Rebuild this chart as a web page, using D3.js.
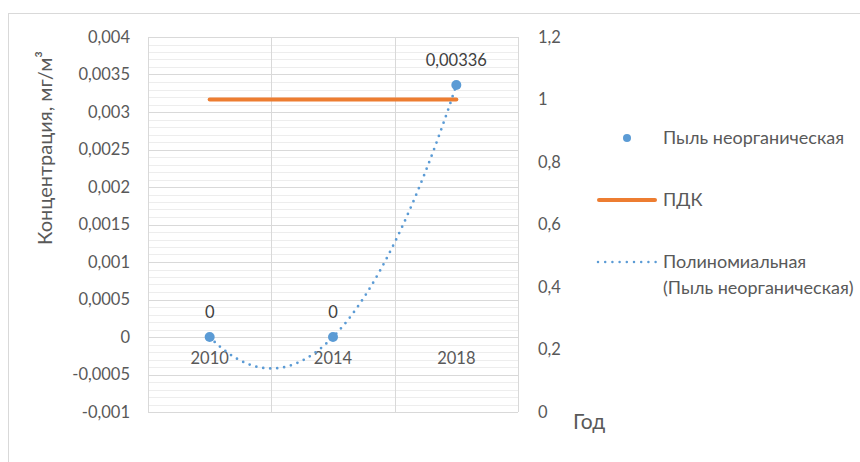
<!DOCTYPE html>
<html>
<head>
<meta charset="utf-8">
<script src="https://cdn.jsdelivr.net/npm/d3@7"></script>
<style>
  html, body { margin: 0; padding: 0; background: #fff; }
  svg { display: block; font-family: Lato, "Open Sans", sans-serif; }
</style>
</head>
<body>
<svg id="chart" width="860" height="462"></svg>
<script>
const years = ["2010", "2014", "2018"];
const dust = [0, 0, 0.00336];          // Пыль неорганическая, мг/м³
const pdk = [1, 1, 1];                 // ПДК, secondary axis
const leftTicks = [-0.001, -0.0005, 0, 0.0005, 0.001, 0.0015, 0.002, 0.0025, 0.003, 0.0035, 0.004];
const rightTicks = [0, 0.2, 0.4, 0.6, 0.8, 1, 1.2];

const BLUE = "#5B9BD5", ORANGE = "#ED7D31", TXT = "#595959";

const loc = d3.formatLocale({ decimal: ",", thousands: " ", grouping: [3], currency: ["", ""], minus: "-" });
const fmt = loc.format("~g");

const svg = d3.select("#chart");
const plot = { left: 148, right: 518, top: 37, bottom: 412 };

// chart frame
svg.append("rect")
  .attr("x", 8.5).attr("y", 13.5)
  .attr("width", 900).attr("height", 500)
  .attr("fill", "#fff").attr("stroke", "#D9D9D9");

const x = d3.scaleBand().domain(years).range([plot.left, plot.right]);
const xc = d => x(d) + x.bandwidth() / 2;
const y = d3.scaleLinear().domain([-0.001, 0.004]).range([plot.bottom, plot.top]);
const y2 = d3.scaleLinear().domain([0, 1.2]).range([plot.bottom, plot.top]);

// minor gridlines
const minor = d3.range(-10, 41).map(i => i / 10000);
svg.append("g").selectAll("line").data(minor).join("line")
  .attr("x1", plot.left).attr("x2", plot.right)
  .attr("y1", d => Math.round(y(d)) + 0.5).attr("y2", d => Math.round(y(d)) + 0.5)
  .attr("stroke", "#EDEDED");

// major gridlines
svg.append("g").selectAll("line").data(leftTicks).join("line")
  .attr("x1", plot.left).attr("x2", plot.right)
  .attr("y1", d => Math.round(y(d)) + 0.5).attr("y2", d => Math.round(y(d)) + 0.5)
  .attr("stroke", "#D9D9D9");

// vertical gridlines at category boundaries
const vlines = years.map(d => x(d)).concat([plot.right]);
svg.append("g").selectAll("line").data(vlines).join("line")
  .attr("x1", d => Math.round(d) + 0.5).attr("x2", d => Math.round(d) + 0.5)
  .attr("y1", plot.top).attr("y2", plot.bottom)
  .attr("stroke", "#D9D9D9");

// left axis labels
svg.append("g").selectAll("text").data(leftTicks).join("text")
  .attr("x", 130).attr("y", d => y(d))
  .attr("dy", "0.35em").attr("text-anchor", "end")
  .attr("font-size", 16.5).attr("fill", TXT)
  .text(d => fmt(d));

// right axis labels
svg.append("g").selectAll("text").data(rightTicks).join("text")
  .attr("x", 538).attr("y", d => y2(d))
  .attr("dy", "0.35em").attr("text-anchor", "start")
  .attr("font-size", 16.5).attr("fill", TXT)
  .text(d => fmt(d));

// category labels (axis crosses at 0)
svg.append("g").selectAll("text").data(years).join("text")
  .attr("x", d => xc(d)).attr("y", y(0) + 21)
  .attr("dy", "0.35em").attr("text-anchor", "middle")
  .attr("font-size", 16.5).attr("fill", TXT)
  .text(d => d);

// axis titles
svg.append("text")
  .attr("transform", "translate(45,148) rotate(-90)")
  .attr("text-anchor", "middle").attr("dy", "0.35em")
  .attr("font-size", 20).attr("fill", TXT)
  .text("Концентрация, мг/м³");

svg.append("text")
  .attr("x", 573).attr("y", 422).attr("dy", "0.35em")
  .attr("font-size", 21).attr("fill", TXT)
  .text("Год");

// ПДК line
svg.append("path")
  .attr("d", d3.line().x((d, i) => xc(years[i])).y(d => y2(d))(pdk))
  .attr("fill", "none").attr("stroke", ORANGE)
  .attr("stroke-width", 4).attr("stroke-linecap", "round");

// polynomial (order 2) trendline fitted to the dust series
const idx = dust.map((d, i) => i + 1);
function polyFit2(xs, ys) {
  const n = xs.length;
  const s = k => d3.sum(xs, v => Math.pow(v, k));
  const t = k => d3.sum(xs, (v, i) => Math.pow(v, k) * ys[i]);
  const A = [[n, s(1), s(2)], [s(1), s(2), s(3)], [s(2), s(3), s(4)]];
  const b = [t(0), t(1), t(2)];
  // gaussian elimination
  for (let i = 0; i < 3; i++) {
    for (let j = i + 1; j < 3; j++) {
      const f = A[j][i] / A[i][i];
      for (let k = i; k < 3; k++) A[j][k] -= f * A[i][k];
      b[j] -= f * b[i];
    }
  }
  const c = [0, 0, 0];
  for (let i = 2; i >= 0; i--) {
    let acc = b[i];
    for (let k = i + 1; k < 3; k++) acc -= A[i][k] * c[k];
    c[i] = acc / A[i][i];
  }
  return v => c[0] + c[1] * v + c[2] * v * v;
}
const trend = polyFit2(idx, dust);
const xi = d3.scaleLinear().domain([1, 3]).range([xc(years[0]), xc(years[2])]);
const trendPts = d3.range(1, 3.0001, 0.02);
svg.append("path")
  .attr("d", d3.line().x(v => xi(v)).y(v => y(trend(v)))(trendPts))
  .attr("fill", "none").attr("stroke", BLUE)
  .attr("stroke-width", 2.75).attr("stroke-linecap", "round")
  .attr("stroke-dasharray", "0 7");

// markers
svg.append("g").selectAll("circle").data(dust).join("circle")
  .attr("cx", (d, i) => xc(years[i])).attr("cy", d => y(d))
  .attr("r", 5).attr("fill", BLUE);

// data labels
svg.append("g").selectAll("text").data(dust).join("text")
  .attr("x", (d, i) => xc(years[i])).attr("y", d => y(d) - 25)
  .attr("dy", "0.35em").attr("text-anchor", "middle")
  .attr("font-size", 16.5).attr("fill", "#404040")
  .text(d => fmt(d));

// legend
const lg = svg.append("g").attr("font-size", 18).attr("fill", TXT);
lg.append("circle").attr("cx", 627).attr("cy", 138).attr("r", 4).attr("fill", BLUE);
lg.append("text").attr("x", 663).attr("y", 138).attr("dy", "0.35em").text("Пыль неорганическая");
lg.append("line").attr("x1", 599).attr("x2", 655).attr("y1", 200).attr("y2", 200)
  .attr("stroke", ORANGE).attr("stroke-width", 4).attr("stroke-linecap", "round");
lg.append("text").attr("x", 663).attr("y", 200).attr("dy", "0.35em").text("ПДК");
lg.append("line").attr("x1", 598).attr("x2", 656).attr("y1", 262).attr("y2", 262)
  .attr("stroke", BLUE).attr("stroke-width", 2.5).attr("stroke-linecap", "round")
  .attr("stroke-dasharray", "0 7.2");
lg.append("text").attr("x", 663).attr("y", 262).attr("dy", "0.35em").text("Полиномиальная");
lg.append("text").attr("x", 663).attr("y", 288).attr("dy", "0.35em").text("(Пыль неорганическая)");
</script>
</body>
</html>
